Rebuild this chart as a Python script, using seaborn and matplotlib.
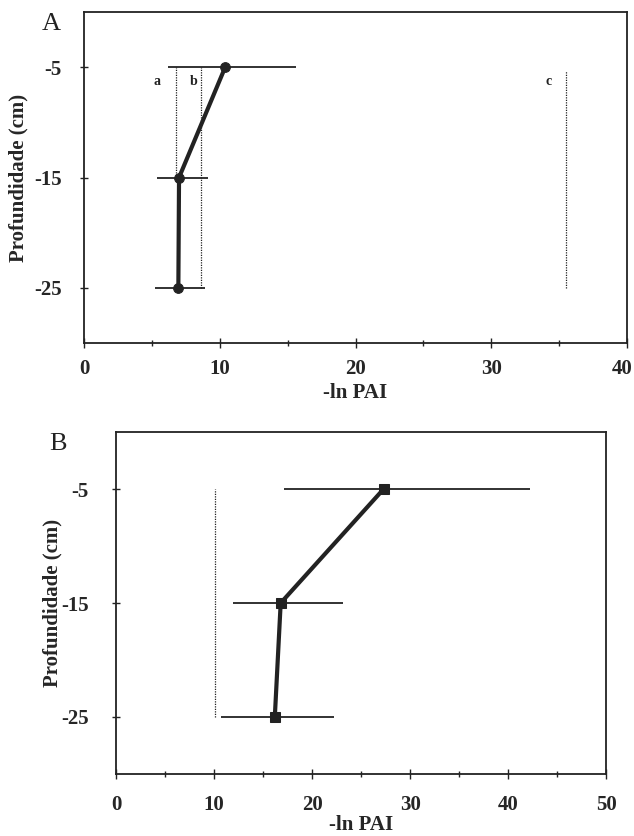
import numpy as np
import pandas as pd
import matplotlib
matplotlib.use("Agg")
import matplotlib.pyplot as plt
import matplotlib.transforms as mtransforms
import seaborn as sns
from matplotlib.ticker import MultipleLocator

# depths (cm)
depth = [-5, -15, -25]

# panel A: -ln PAI mean and error bar ends
a_mean = [10.4, 7.0, 6.95]
a_low = [6.2, 5.4, 5.25]
a_high = [15.65, 9.15, 8.9]
a_xticks = [0, 10, 20, 30, 40]
# reference lines a, b, c in panel A
a_refs_x = [6.8, 8.65, 35.5]
a_refs_top = [-5, -5, -5.3]
a_refs_bot = [-15, -25, -25]
a_refs_lab = ["a", "b", "c"]

# panel B
b_mean = [27.3, 16.8, 16.2]
b_low = [17.1, 11.9, 10.7]
b_high = [42.2, 23.2, 22.2]
b_xticks = [0, 10, 20, 30, 40, 50]
b_ref_x = 10.1
b_ref_top = -5
b_ref_bot = -25

sns.set_style("ticks")
plt.rcParams['font.family'] = ['Liberation Serif', 'DejaVu Serif']
plt.rcParams['axes.unicode_minus'] = False

ink = "#222222"
fs = 15

fig = plt.figure(figsize=(6.34, 8.36), dpi=100)
axA = fig.add_axes([0.1325, 0.5897, 0.8565, 0.3959])
axB = fig.add_axes([0.183, 0.0742, 0.773, 0.409])


def draw_panel(ax, mean, low, high, marker, xticks, xpad, ypad, ylab_x, xlab_y):
    df = pd.DataFrame({"pai": mean, "depth": depth})
    # error bars
    ax.hlines(depth, low, high, color=ink, lw=1.3, zorder=2)
    sns.lineplot(data=df, x="pai", y="depth", sort=False, orient="y",
                 color=ink, lw=3, marker=marker, markersize=7,
                 markeredgecolor=ink, ax=ax, zorder=3)
    ax.set_xlim(xticks[0], xticks[-1])
    ax.set_ylim(-30, 0)
    ax.set_yticks([-5, -15, -25])
    ax.set_xticks(xticks)
    ax.xaxis.set_minor_locator(MultipleLocator(5))
    ax.tick_params(axis="both", which="both", direction="inout",
                   labelsize=fs, color=ink, width=1)
    ax.tick_params(axis="x", which="major", length=7, pad=xpad)
    ax.tick_params(axis="x", which="minor", length=5)
    ax.tick_params(axis="y", length=6, pad=ypad)
    for lab in ax.get_xticklabels() + ax.get_yticklabels():
        lab.set_fontweight("bold")
    ax.set_xlabel("-ln PAI", fontsize=fs, fontweight="bold")
    ax.set_ylabel("Profundidade (cm)", fontsize=fs, fontweight="bold")
    ax.yaxis.set_label_coords(ylab_x, 0.5)
    ax.xaxis.set_label_coords(0.5, xlab_y)
    ax.xaxis.label.set_va("center")
    ax.yaxis.label.set_va("center")
    for s in ax.spines.values():
        s.set_color(ink)
        s.set_linewidth(1.3)


draw_panel(axA, a_mean, a_low, a_high, "o", a_xticks, 8, 13, -0.1215, -0.151)
draw_panel(axB, b_mean, b_low, b_high, "s", b_xticks, 12, 16.5, -0.1306, -0.149)

# last x tick label of panel A sits against the figure edge
last = axA.get_xticklabels()[-1]
last.set_transform(last.get_transform() +
                   mtransforms.ScaledTranslation(-5 / 100, 0, fig.dpi_scale_trans))

# dotted reference lines
axA.vlines(a_refs_x, a_refs_bot, a_refs_top, color=ink, lw=0.9,
           linestyles=(0, (1, 1)), zorder=1)
for x, lab, dx in zip(a_refs_x, a_refs_lab, [-1.4, -0.6, -1.3]):
    axA.text(x + dx, -6.3, lab, fontsize=10, fontweight="bold",
             ha="center", va="center", color=ink)
axB.vlines([b_ref_x], [b_ref_bot], [b_ref_top], color=ink, lw=0.9,
           linestyles=(0, (1, 1)), zorder=1)

fig.text(51 / 634, 1 - 24 / 836, "A", fontsize=19, ha="center",
         va="center", color=ink)
fig.text(58 / 634, 1 - 444 / 836, "B", fontsize=19, ha="center",
         va="center", color=ink)

fig.savefig("out.png", dpi=100)
